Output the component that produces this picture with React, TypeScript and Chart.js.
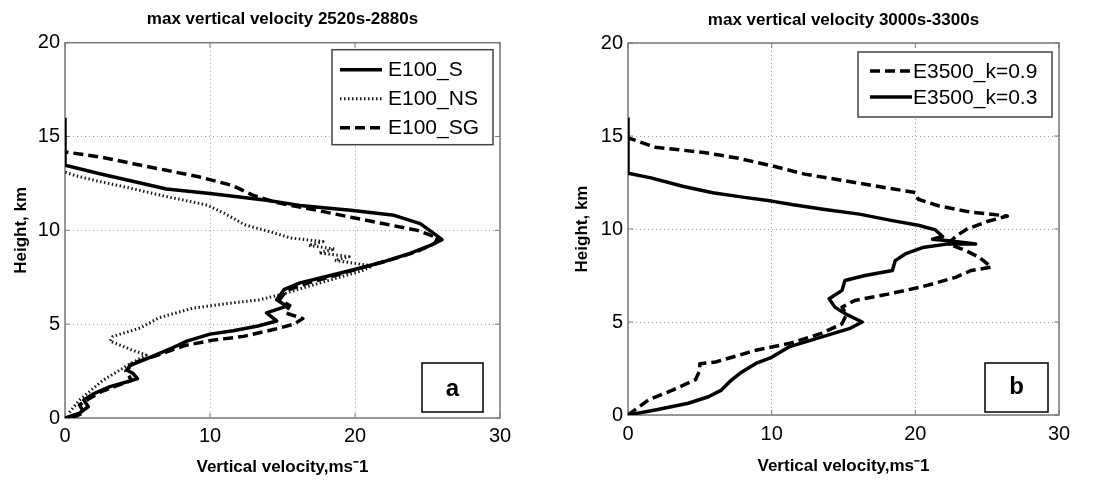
import { useEffect, useRef } from "react";
import { Chart, registerables } from "chart.js";

Chart.register(...registerables);

const FONT = "'Liberation Sans', Arial, Helvetica, sans-serif";

const TITLE_A = "max vertical velocity 2520s-2880s";
const TITLE_B = "max vertical velocity 3000s-3300s";
const X_LABEL = "Vertical velocity,ms\u207B1";
const Y_LABEL = "Height, km";
const X_TICKS = [0, 10, 20, 30];
const Y_TICKS = [0, 5, 10, 15, 20];

// Panel a: E100_S (solid)
const A_S_LABEL = "E100_S";
const A_S_VEL = [0, 1.0, 1.6, 1.3, 2.0, 3.1, 4.3, 5.0, 4.7, 4.3, 4.5, 5.9, 7.5, 8.4, 10, 11.6, 13.3, 14.6, 13.9, 15.3, 14.6, 15.1, 16.2, 17.6, 18.5, 19.9, 22, 23.8, 25.2, 26, 25.5, 24.5, 22.7, 19.7, 16.2, 13.9, 10, 7, 2.4, 0, 0];
const A_S_HGT = [0, 0.26, 0.6, 0.96, 1.3, 1.67, 1.93, 2.1, 2.37, 2.54, 2.8, 3.25, 3.77, 4.1, 4.47, 4.65, 4.9, 5.17, 5.6, 5.96, 6.3, 6.84, 7.2, 7.46, 7.63, 7.9, 8.33, 8.77, 9.2, 9.5, 9.8, 10.36, 10.8, 11.07, 11.33, 11.6, 11.96, 12.2, 13.02, 13.47, 16];

// Panel a: E100_NS (dotted)
const A_NS_LABEL = "E100_NS";
const A_NS_VEL = [0.3, 1.0, 2.6, 4.3, 5.6, 4.7, 3.1, 3.3, 5.2, 6.5, 8.8, 11.2, 13.4, 15.0, 16.7, 18.5, 20.5, 21.2, 19.5, 18.6, 19.6, 17.5, 18.6, 16.8, 17.8, 15.5, 14.7, 12.4, 11.0, 9.8, 7.0, 4.5, 2.4, 0.8, 0];
const A_NS_HGT = [0.3, 0.96, 2.0, 2.8, 3.35, 3.6, 4.1, 4.35, 4.8, 5.35, 5.85, 6.1, 6.3, 6.6, 7.0, 7.4, 7.85, 8.1, 8.3, 8.4, 8.6, 8.8, 9.0, 9.2, 9.4, 9.6, 9.8, 10.3, 10.9, 11.35, 11.8, 12.25, 12.6, 12.9, 13.1];

// Panel a: E100_SG (dashed)
const A_SG_LABEL = "E100_SG";
const A_SG_VEL = [0.5, 1.3, 1.0, 1.6, 2.5, 3.5, 4.6, 4.2, 4.6, 6.2, 8.2, 10.2, 12.3, 14.3, 15.8, 16.4, 15.2, 15.5, 14.8, 15.3, 16.8, 18.2, 20.2, 22.3, 24.2, 25.5, 25.7, 24.3, 22.0, 19.7, 17.5, 16.2, 14.5, 13.0, 11.5, 9.3, 7.0, 4.7, 2.5, 0];
const A_SG_HGT = [0, 0.3, 0.7, 1.0, 1.4, 1.7, 2.0, 2.5, 2.9, 3.3, 3.85, 4.15, 4.35, 4.7, 5.0, 5.3, 5.6, 6.0, 6.3, 6.8, 7.2, 7.5, 7.95, 8.4, 8.85, 9.3, 9.6, 10.0, 10.35, 10.7, 11.05, 11.24, 11.5, 11.86, 12.4, 12.84, 13.2, 13.55, 13.9, 14.18];

// Panel b: E3500_k=0.9 (dashed)
const B_K09_LABEL = "E3500_k=0.9";
const B_K09_VEL = [0, 1.4, 3.1, 4.7, 5.0, 5.0, 6.1, 8.9, 11.2, 13.5, 14.9, 15.2, 14.9, 15.8, 18.1, 20.5, 22.8, 23.9, 25.3, 24.4, 23.5, 22.3, 22.8, 23.6, 25.0, 26.4, 23.9, 21.6, 20.2, 20.0, 18.1, 15.8, 12.3, 10.0, 7.7, 5.4, 1.9, 0];
const B_K09_HGT = [0, 0.8, 1.34, 1.9, 2.4, 2.75, 2.85, 3.48, 3.84, 4.4, 4.9, 5.4, 5.8, 6.16, 6.5, 6.9, 7.4, 7.77, 7.95, 8.5, 8.84, 9.2, 9.6, 10.0, 10.4, 10.7, 10.9, 11.25, 11.6, 11.96, 12.2, 12.5, 12.95, 13.4, 13.8, 14.1, 14.4, 14.9];

// Panel b: E3500_k=0.3 (solid)
const B_K03_LABEL = "E3500_k=0.3";
const B_K03_VEL = [0, 1.9, 4.2, 5.6, 6.5, 7.2, 7.9, 8.9, 10, 11.2, 13.5, 15.4, 16.3, 15.1, 14.4, 14.0, 14.9, 15.1, 16.5, 18.4, 18.6, 19.3, 20.5, 22.3, 24.2, 22.5, 21.2, 21.9, 21.4, 20.2, 18.4, 16.1, 13.7, 11.5, 10, 8.1, 5.9, 3.8, 1.6, 0, 0];
const B_K03_HGT = [0, 0.27, 0.63, 0.98, 1.34, 1.88, 2.3, 2.77, 3.1, 3.66, 4.2, 4.64, 5.0, 5.45, 5.8, 6.25, 6.7, 7.23, 7.5, 7.77, 8.3, 8.66, 9.0, 9.2, 9.2, 9.35, 9.45, 9.6, 9.95, 10.2, 10.45, 10.8, 11.05, 11.3, 11.5, 11.7, 11.95, 12.3, 12.75, 13.0, 16];

const pts = (v: number[], h: number[]) => v.map((x, i) => ({ x, y: h[i] }));

const SOLID = { borderColor: "#000", borderWidth: 3.5, borderDash: [] as number[] };
const DOTTED = { borderColor: "#1a1a1a", borderWidth: 3, borderDash: [1.5, 2.5] };
const DASHED = { borderColor: "#000", borderWidth: 3.5, borderDash: [10, 5] };

const mkDs = (label: string, v: number[], h: number[], style: any) => ({
  label,
  data: pts(v, h),
  showLine: true,
  pointRadius: 0,
  fill: false,
  tension: 0,
  borderJoinStyle: "round" as const,
  ...style,
});

const decorPlugin = {
  id: "decor",
  beforeDatasetsDraw(chart: any) {
    const { ctx, chartArea: a } = chart;
    const xs = chart.scales.x;
    const ys = chart.scales.y;
    ctx.save();
    ctx.strokeStyle = "#7a7a7a";
    ctx.lineWidth = 1.5;
    ctx.setLineDash([]);
    ctx.strokeRect(a.left, a.top, a.right - a.left, a.bottom - a.top);
    ctx.lineWidth = 1;
    ctx.beginPath();
    X_TICKS.forEach((v) => {
      const p = xs.getPixelForValue(v);
      ctx.moveTo(p, a.bottom);
      ctx.lineTo(p, a.bottom - 5);
      ctx.moveTo(p, a.top);
      ctx.lineTo(p, a.top + 5);
    });
    Y_TICKS.forEach((v) => {
      const p = ys.getPixelForValue(v);
      ctx.moveTo(a.left, p);
      ctx.lineTo(a.left + 5, p);
      ctx.moveTo(a.right, p);
      ctx.lineTo(a.right - 5, p);
    });
    ctx.stroke();
    ctx.restore();
  },
  afterDatasetsDraw(chart: any, _args: any, opts: any) {
    const { ctx, chartArea: a } = chart;
    const lg = opts.legend;
    ctx.save();
    const lx = a.right - lg.right - lg.width;
    const ly = a.top + lg.top;
    ctx.fillStyle = "#fff";
    ctx.fillRect(lx, ly, lg.width, lg.height);
    ctx.strokeStyle = "#444";
    ctx.lineWidth = 1.5;
    ctx.setLineDash([]);
    ctx.strokeRect(lx, ly, lg.width, lg.height);
    chart.data.datasets.forEach((ds: any, i: number) => {
      const cy = ly + lg.rowStart + i * lg.rowGap;
      ctx.beginPath();
      ctx.setLineDash(ds.borderDash || []);
      ctx.lineWidth = ds.borderWidth;
      ctx.strokeStyle = ds.borderColor;
      ctx.moveTo(lx + lg.sampleX, cy);
      ctx.lineTo(lx + lg.sampleX + lg.sampleLen, cy);
      ctx.stroke();
      ctx.setLineDash([]);
      ctx.fillStyle = "#000";
      ctx.font = `21px ${FONT}`;
      ctx.textAlign = "left";
      ctx.textBaseline = "middle";
      ctx.fillText(ds.label, lx + lg.textX, cy + 1);
    });
    const lb = opts.letter;
    const bx = a.right - lb.right - lb.width;
    const by = a.bottom - lb.bottom - lb.height;
    ctx.fillStyle = "#fff";
    ctx.fillRect(bx, by, lb.width, lb.height);
    ctx.strokeStyle = "#000";
    ctx.lineWidth = 1.5;
    ctx.strokeRect(bx, by, lb.width, lb.height);
    ctx.fillStyle = "#000";
    ctx.font = `bold 24px 'Liberation Sans Narrow', ${FONT}`;
    ctx.textAlign = "center";
    ctx.textBaseline = "middle";
    ctx.fillText(lb.text, bx + lb.width / 2, by + lb.height / 2 + lb.dy);
    ctx.restore();
  },
};

type PanelCfg = {
  left: number;
  w: number;
  title: string;
  datasets: any[];
  padRight: number;
  titleTop: number;
  titleBottom: number;
  yWidth: number;
  xHeight: number;
  xTickPad: number;
  xTitleBottom: number;
  yTitlePad: number;
  legend: any;
  letter: any;
};

function Panel({ cfg }: { cfg: PanelCfg }) {
  const ref = useRef<HTMLCanvasElement>(null);
  useEffect(() => {
    const tickFont = { family: FONT, size: 20 };
    const labelFont = { family: FONT, size: 17, weight: "bold" as const };
    const chart = new Chart(ref.current as HTMLCanvasElement, {
      type: "scatter",
      data: { datasets: cfg.datasets },
      plugins: [decorPlugin as any],
      options: {
        animation: false,
        responsive: false,
        devicePixelRatio: 1,
        layout: { padding: { left: 0, right: cfg.padRight, top: 0, bottom: 0 } },
        plugins: {
          legend: { display: false },
          tooltip: { enabled: false },
          title: {
            display: true,
            text: cfg.title,
            color: "#000",
            fullSize: false,
            font: labelFont,
            padding: { top: cfg.titleTop, bottom: cfg.titleBottom },
          },
          decor: { legend: cfg.legend, letter: cfg.letter },
        } as any,
        scales: {
          x: {
            type: "linear",
            min: X_TICKS[0],
            max: X_TICKS[X_TICKS.length - 1],
            afterBuildTicks: (s: any) => {
              s.ticks = X_TICKS.map((v) => ({ value: v }));
            },
            afterFit: (s: any) => {
              s.height = cfg.xHeight;
            },
            grid: { color: "#a0a0a0", lineWidth: 1, drawTicks: false },
            border: { display: false, dash: [1, 3] },
            ticks: { padding: cfg.xTickPad, color: "#000", font: tickFont, maxRotation: 0, autoSkip: false },
            title: {
              display: true,
              text: X_LABEL,
              color: "#000",
              font: labelFont,
              padding: { top: 0, bottom: cfg.xTitleBottom },
            },
          },
          y: {
            type: "linear",
            min: Y_TICKS[0],
            max: Y_TICKS[Y_TICKS.length - 1],
            afterBuildTicks: (s: any) => {
              s.ticks = Y_TICKS.map((v) => ({ value: v }));
            },
            afterFit: (s: any) => {
              s.width = cfg.yWidth;
            },
            grid: { color: "#a0a0a0", lineWidth: 1, drawTicks: false },
            border: { display: false, dash: [1, 3] },
            ticks: { padding: 5, color: "#000", font: tickFont, autoSkip: false },
            title: {
              display: true,
              text: Y_LABEL,
              color: "#000",
              font: labelFont,
              padding: { top: cfg.yTitlePad, bottom: 0 },
            },
          },
        },
      },
    } as any);
    return () => chart.destroy();
  }, []);
  return (
    <canvas
      ref={ref}
      width={cfg.w}
      height={480}
      style={{ position: "absolute", left: cfg.left, top: 0, width: cfg.w, height: 480 }}
    />
  );
}

const PANEL_A: PanelCfg = {
  left: 0,
  w: 557,
  title: TITLE_A,
  datasets: [
    mkDs(A_S_LABEL, A_S_VEL, A_S_HGT, SOLID),
    mkDs(A_NS_LABEL, A_NS_VEL, A_NS_HGT, DOTTED),
    mkDs(A_SG_LABEL, A_SG_VEL, A_SG_HGT, DASHED),
  ],
  padRight: 57,
  titleTop: 9,
  titleBottom: 13.3,
  yWidth: 65,
  xHeight: 62,
  xTickPad: 6,
  xTitleBottom: 2,
  yTitlePad: 11,
  legend: { right: 7, top: 7, width: 161, height: 95, rowStart: 20, rowGap: 29, sampleX: 8, sampleLen: 42, textX: 56 },
  letter: { right: 17, bottom: 6, width: 61, height: 49, text: "a", dy: 2 },
};

const PANEL_B: PanelCfg = {
  left: 557,
  w: 558,
  title: TITLE_B,
  datasets: [
    mkDs(B_K09_LABEL, B_K09_VEL, B_K09_HGT, DASHED),
    mkDs(B_K03_LABEL, B_K03_VEL, B_K03_HGT, SOLID),
  ],
  padRight: 56,
  titleTop: 10,
  titleBottom: 12.6,
  yWidth: 71,
  xHeight: 65,
  xTickPad: 7,
  xTitleBottom: 3,
  yTitlePad: 15,
  legend: { right: 7, top: 9, width: 194, height: 65, rowStart: 19, rowGap: 26, sampleX: 12, sampleLen: 42, textX: 55 },
  letter: { right: 11, bottom: 3, width: 63, height: 49, text: "b", dy: 0 },
};

export default function App() {
  return (
    <div style={{ position: "absolute", left: 0, top: 0, width: 1115, height: 480, background: "#fff" }}>
      <Panel cfg={PANEL_A} />
      <Panel cfg={PANEL_B} />
    </div>
  );
}
